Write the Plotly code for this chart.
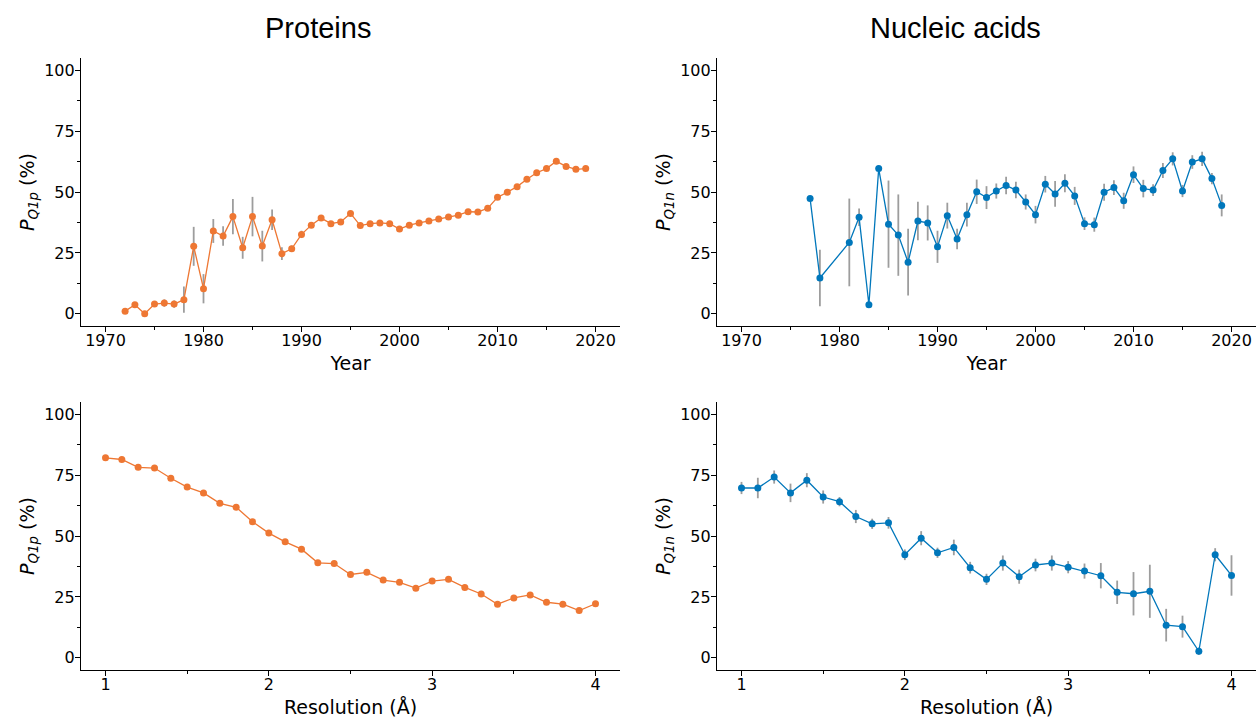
import plotly.graph_objects as go

ORANGE = "#EE7733"
BLUE = "#0077BB"
ERR = "rgba(140,140,140,0.85)"

# ---- Proteins vs year ----
prot_years = list(range(1972, 2020))
prot_year_vals = [1.1, 3.7, 0.0, 4.0, 4.4, 4.0, 5.8, 27.7, 10.3, 34.0, 31.9, 39.9, 27.1, 39.9,
                  27.8, 38.6, 24.7, 26.7, 32.6, 36.4, 39.3, 37.0, 37.7, 41.2, 36.2, 37.0, 37.3,
                  37.0, 34.8, 36.4, 37.3, 38.1, 38.9, 39.7, 40.5, 41.9, 41.8, 43.3, 47.8, 49.9,
                  52.2, 55.2, 57.9, 59.6, 62.6, 60.5, 59.3, 59.6]
prot_year_err = [0.5, 0.5, 0.5, 0.5, 1.5, 1.5, 5.4, 8.0, 6.0, 4.9, 4.0, 7.2, 4.5, 8.1,
                 6.3, 4.2, 2.6, 1.3, 1.5, 0.8, 0.8, 0.8, 0.8, 0.8, 0.8, 0.8, 0.8,
                 0.8, 0.8, 0.8, 0.8, 0.8, 0.8, 0.8, 0.8, 0.8, 0.8, 0.8, 0.8, 0.8,
                 0.8, 0.8, 0.8, 0.8, 0.8, 0.8, 0.8, 0.8]

# ---- Nucleic acids vs year ----
nuc_years = [1977, 1978] + list(range(1981, 2020))
nuc_year_vals = [47.3, 14.7, 29.3, 39.6, 3.7, 59.6, 36.8, 32.3, 21.2, 38.1, 37.3, 27.5, 40.3,
                 30.7, 40.7, 50.1, 47.7, 50.4, 52.7, 50.8, 45.9, 40.7, 53.2, 49.2, 53.6, 48.4,
                 37.0, 36.6, 49.9, 51.8, 46.4, 57.1, 51.4, 50.8, 58.8, 63.6, 50.4, 62.3, 63.6,
                 55.5, 44.5]
nuc_year_err = [0.0, 11.6, 18.0, 3.6, 0.5, 0.5, 17.9, 16.7, 13.7, 7.9, 7.2, 6.6, 5.3,
                4.2, 4.9, 5.0, 4.7, 3.1, 3.6, 3.4, 3.1, 3.6, 3.4, 5.3, 3.7, 3.7,
                2.6, 2.9, 3.5, 3.0, 3.3, 3.4, 3.6, 2.4, 3.1, 2.7, 2.5, 2.8, 2.9,
                2.3, 4.5]

# ---- Resolution ----
resolution = [1.0, 1.1, 1.2, 1.3, 1.4, 1.5, 1.6, 1.7, 1.8, 1.9, 2.0, 2.1, 2.2, 2.3, 2.4, 2.5,
              2.6, 2.7, 2.8, 2.9, 3.0, 3.1, 3.2, 3.3, 3.4, 3.5, 3.6, 3.7, 3.8, 3.9, 4.0]
prot_res_vals = [82.1, 81.4, 78.2, 77.9, 73.7, 70.1, 67.7, 63.4, 61.8, 55.9, 51.2, 47.6, 44.6,
                 39.0, 38.7, 34.2, 35.1, 31.9, 31.0, 28.6, 31.5, 32.2, 28.9, 26.2, 22.0, 24.6,
                 25.8, 22.8, 22.0, 19.4, 22.2]
prot_res_err = [0.5] * 31
nuc_res_vals = [69.7, 69.7, 74.2, 67.7, 72.9, 66.0, 64.1, 58.0, 55.0, 55.4, 42.3, 49.1, 43.1,
                45.3, 37.0, 32.2, 38.9, 33.3, 38.1, 38.9, 37.2, 35.6, 33.7, 26.9, 26.3, 27.3,
                13.4, 12.8, 2.7, 42.3, 33.8]
nuc_res_err = [2.5, 4.2, 2.7, 3.8, 2.9, 2.7, 1.9, 2.7, 2.1, 2.4, 2.2, 2.9, 2.1, 3.2, 2.4, 2.3,
               3.1, 2.9, 2.6, 3.1, 2.5, 3.1, 5.2, 4.8, 8.9, 10.9, 6.7, 4.5, 1.5, 2.7, 8.3]

col_titles = ["Proteins", "Nucleic acids"]
ytitle_p = "<i>P</i><sub><i>Q1p</i></sub> (%)"
ytitle_n = "<i>P</i><sub><i>Q1n</i></sub> (%)"

W, H = 1257, 719
panels = [
    ("", (81, 620), (58, 326), prot_years, prot_year_vals, prot_year_err, ORANGE, ytitle_p, "Year", [1967.5, 2022.5], 10, 5),
    ("2", (717, 1256), (58, 326), nuc_years, nuc_year_vals, nuc_year_err, BLUE, ytitle_n, "Year", [1967.5, 2022.5], 10, 5),
    ("3", (81, 620), (402, 670), resolution, prot_res_vals, prot_res_err, ORANGE, ytitle_p, "Resolution (Å)", [0.85, 4.15], 1, 0.5),
    ("4", (717, 1256), (402, 670), resolution, nuc_res_vals, nuc_res_err, BLUE, ytitle_n, "Resolution (Å)", [0.85, 4.15], 1, 0.5),
]

fig = go.Figure()
layout = {}
tickfont = dict(family="DejaVu Sans", size=16, color="black")
titlefont = dict(family="DejaVu Sans", size=19, color="black")

for ax, (x0, x1), (y0, y1), xs, ys, es, color, yt, xt, xr, dt, mn in panels:
    xa = "x" + ax
    ya = "y" + ax
    fig.add_trace(go.Scatter(
        x=xs, y=ys, xaxis=xa, yaxis=ya, mode="markers",
        marker=dict(size=1, color="rgba(0,0,0,0)"),
        error_y=dict(type="data", array=es, visible=True, color=ERR, thickness=1.8, width=0),
        showlegend=False, hoverinfo="skip"))
    fig.add_trace(go.Scatter(
        x=xs, y=ys, xaxis=xa, yaxis=ya, mode="lines+markers",
        line=dict(color=color, width=1.3),
        marker=dict(size=7, color=color),
        showlegend=False))
    common = dict(showline=True, linecolor="black", linewidth=1.2, ticks="outside",
                  ticklen=5, tickwidth=1.2, tickcolor="black", showgrid=False, zeroline=False,
                  tickfont=tickfont)
    layout["xaxis" + ax] = dict(
        domain=[x0 / W, x1 / W], anchor=ya, range=xr, dtick=dt, tick0=0,
        ticklabelstandoff=-5,
        minor=dict(ticks="outside", dtick=mn, ticklen=3, tickwidth=1, tickcolor="black", showgrid=False),
        title=dict(text=xt, font=titlefont, standoff=7), **common)
    layout["yaxis" + ax] = dict(
        domain=[1 - y1 / H, 1 - y0 / H], anchor=xa, range=[-5, 105], dtick=25, tick0=0,
        ticklabelstandoff=-3,
        minor=dict(ticks="outside", dtick=12.5, ticklen=3, tickwidth=1, tickcolor="black", showgrid=False),
        title=dict(text=yt, font=titlefont, standoff=4), **common)

annotations = [
    dict(text=col_titles[0], x=318 / W, y=1 - 28 / H, xref="paper", yref="paper",
         showarrow=False, font=dict(family="Liberation Sans, Arial", size=29, color="black"),
         xanchor="center", yanchor="middle"),
    dict(text=col_titles[1], x=955 / W, y=1 - 28 / H, xref="paper", yref="paper",
         showarrow=False, font=dict(family="Liberation Sans, Arial", size=29, color="black"),
         xanchor="center", yanchor="middle"),
]

fig.update_layout(
    width=W, height=H, margin=dict(l=0, r=0, t=0, b=0),
    paper_bgcolor="white", plot_bgcolor="white",
    annotations=annotations, **layout)

fig.write_html("out.html")
